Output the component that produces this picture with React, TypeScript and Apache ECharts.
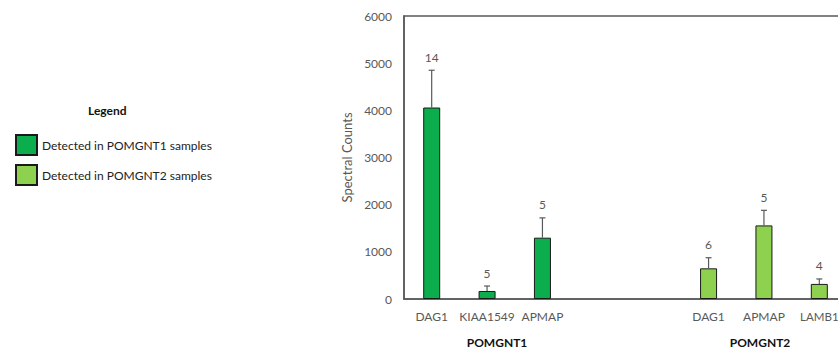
import React, { useEffect, useRef } from "react";
import * as echarts from "echarts";

const categoryKeys = ["c0", "c1", "c2", "c3", "c4", "c5", "c6", "c7"];
const categoryLabels = ["DAG1", "KIAA1549", "APMAP", "", "", "DAG1", "APMAP", "LAMB1"];
const pomgnt1Values = [4060, 170, 1300, null, null, null, null, null];
const pomgnt2Values = [null, null, null, null, null, 650, 1560, 320];
const errorUpper = [4850, 275, 1720, null, null, 875, 1880, 425];
const sampleCounts = ["14", "5", "5", "", "", "6", "5", "4"];
const groupLabels = ["POMGNT1", "POMGNT2"];
const seriesNames = ["Detected in POMGNT1 samples", "Detected in POMGNT2 samples"];
const yTicks = { min: 0, max: 6000, interval: 1000 };

const FONT = "Lato, 'Open Sans', sans-serif";
const GRAY = "#595959";

export default function App() {
  const ref = useRef<HTMLDivElement>(null);
  useEffect(() => {
    document.body.style.margin = "0";
    const chart = echarts.init(ref.current!, null, { renderer: "svg" });
    const errData: any[] = [];
    errorUpper.forEach((u, i) => {
      const v = pomgnt1Values[i] ?? pomgnt2Values[i];
      if (u != null && v != null) errData.push([i, v, u, sampleCounts[i]]);
    });
    const lastIdx = categoryKeys.length - 1;
    chart.setOption({
      animation: false,
      textStyle: { fontFamily: FONT },
      grid: {
        left: 404,
        top: 16,
        bottom: 51,
        right: -9,
        outerBoundsMode: "none",
        containLabel: false,
        show: true,
        borderColor: GRAY,
        borderWidth: 1.5,
      },
      legend: {
        orient: "vertical",
        left: 10,
        top: 129,
        itemWidth: 21,
        itemHeight: 20,
        itemGap: 8,
        icon: "rect",
        data: seriesNames,
        textStyle: { color: "#222", fontSize: 12, fontFamily: FONT },
        selectedMode: false,
      },
      xAxis: {
        type: "category",
        data: categoryKeys.map((k, i) =>
          i === lastIdx ? { value: k, textStyle: { fontSize: 11.5 } } : k
        ),
        axisTick: { show: false },
        axisLine: { lineStyle: { color: GRAY, width: 1.5 } },
        axisLabel: {
          color: GRAY,
          fontSize: 12,
          margin: 11,
          interval: 0,
          formatter: (_v: string, i: number) => categoryLabels[i],
        },
      },
      yAxis: {
        type: "value",
        min: yTicks.min,
        max: yTicks.max,
        interval: yTicks.interval,
        name: "Spectral Counts",
        nameLocation: "middle",
        nameGap: 37,
        nameTextStyle: { color: GRAY, fontSize: 13 },
        axisLine: { show: true, lineStyle: { color: GRAY, width: 1.5 } },
        axisTick: { show: false },
        splitLine: { show: false },
        axisLabel: {
          color: GRAY,
          fontSize: 12,
          margin: 12,
          formatter: (v: number) => String(v),
        },
      },
      series: [
        {
          name: seriesNames[0],
          type: "bar",
          data: pomgnt1Values.map((v) => (v == null ? "-" : v)),
          barWidth: 17,
          barGap: "-100%",
          itemStyle: { color: "#0BAD4D", borderColor: "#1a1a1a", borderWidth: 1 },
        },
        {
          name: seriesNames[1],
          type: "bar",
          data: pomgnt2Values.map((v) => (v == null ? "-" : v)),
          barWidth: 17,
          barGap: "-100%",
          itemStyle: { color: "#8DD14F", borderColor: "#1a1a1a", borderWidth: 1 },
        },
        {
          type: "custom",
          data: errData,
          z: 10,
          itemStyle: { color: GRAY },
          renderItem: (_p: any, api: any) => {
            const base = api.coord([api.value(0), api.value(1)]);
            const top = api.coord([api.value(0), api.value(2)]);
            const text = errData[_p.dataIndex][3];
            return {
              type: "group",
              children: [
                {
                  type: "line",
                  shape: { x1: base[0], y1: base[1], x2: top[0], y2: top[1] },
                  style: { stroke: GRAY, lineWidth: 1.2 },
                },
                {
                  type: "line",
                  shape: { x1: top[0] - 3, y1: top[1], x2: top[0] + 3, y2: top[1] },
                  style: { stroke: GRAY, lineWidth: 1.2 },
                },
                {
                  type: "text",
                  style: {
                    text,
                    x: top[0],
                    y: top[1] - 7,
                    align: "center",
                    verticalAlign: "bottom",
                    fill: GRAY,
                    fontSize: 12,
                    fontFamily: FONT,
                  },
                },
              ],
            };
          },
        },
      ],
      graphic: [
        {
          type: "text",
          left: 88,
          top: 104,
          style: { text: "Legend", fill: "#111", font: `bold 12px ${FONT}` },
        },
        {
          type: "text",
          x: 497,
          y: 342,
          style: {
            text: groupLabels[0],
            fill: "#111",
            font: `bold 12px ${FONT}`,
            align: "center",
            verticalAlign: "middle",
          },
        },
        {
          type: "text",
          x: 760,
          y: 342,
          style: {
            text: groupLabels[1],
            fill: "#111",
            font: `bold 12px ${FONT}`,
            align: "center",
            verticalAlign: "middle",
          },
        },
      ],
    });
    return () => chart.dispose();
  }, []);
  return <div ref={ref} style={{ width: 838, height: 350, background: "#fff" }} />;
}
